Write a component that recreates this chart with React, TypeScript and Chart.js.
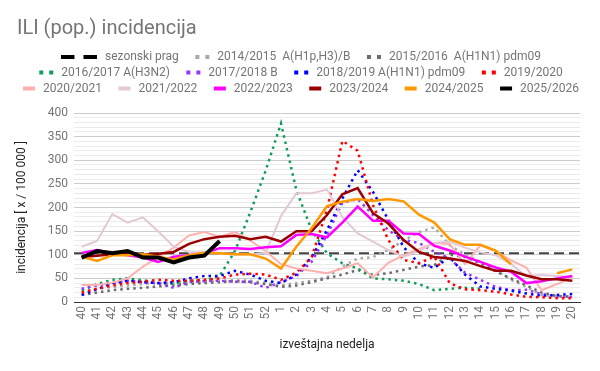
import React, { useEffect, useRef } from 'react';
import { Chart, registerables } from 'chart.js';
Chart.register(...registerables);

const weeks = ['40','41','42','43','44','45','46','47','48','49','50','51','52','1','2','3','4','5','6','7','8','9','10','11','12','13','14','15','16','17','18','19','20'];
const yTicksMajor = [0, 50, 100, 150, 200, 250, 300, 350, 400];
const thresholdValue = 103;

const s1415 = [22,28,32,35,38,40,40,42,44,45,46,45,40, 35,40,45,52,75,92,95,110,130,148, 158,120,100,85,68,47,32,15,12,11];
const s1516 = [15,20,25,28,30,33,35,38,40,42,44,42,38, 32,35,42,50,58,68,57,61,68,75, 78,100,95,82,65,50,35,20,13,11];
const s1617 = [25,38,47,50,46,40,38,45,45,55,108,190,278, 378,237,152,103,82,71,50,48,45,38, 25,28,30,28,null,null,null,null,null,null];
const s1718 = [28,35,40,45,42,40,30,42,44,45,43,43,30, 42,55,85,142,210,218,184,152,131,125, 106,92,62,47,32,25,26,17,12,10];
const s1819 = [15,27,40,45,42,40,42,50,55,55,66,58,45, 40,58,95,152,219,279,233,174,116,82, 72,95,58,33,28,24,18,13,15,17];
const s1920 = [20,28,35,40,43,47,45,45,47,50,58,60,58, 47,62,95,195,341,320,205,131,89,82, 96,40,27,25,22,16,11,10,8,8];
const s2021 = [36,36,41,50,75,95,115,141,148,138,148,130,108, 80,71,66,61,71,82,52,83,99,112, 125,123,80,120,108,88,73,25,38,52];
const s2122 = [117,129,186,168,179,149,117,106,105,104,100,100,104, 182,230,230,238,180,145,128,110,96,108, 125,128,115,105,99,80,55,57,55,52];
const s2223 = [104,110,103,99,94,85,96,99,103,114,114,112,116, 118,142,144,137,168,202,172,172,145,144, 119,109,96,85,73,64,40,44,50,55];
const s2324 = [95,98,101,104,100,102,106,123,133,138,140,133,138, 128,150,150,184,228,241,188,166,131,106, 95,92,87,76,66,66,56,48,48,45];
const s2425 = [96,87,99,99,101,96,90,99,104,103,101,101,92, 71,117,156,203,212,218,214,218,213,185, 168,133,121,121,109,80,null,null,61,69];
const s2526 = [94,108,103,108,94,94,84,94,98,129, null,null,null,null,null,null,null,null,null,null,null,null,null,null,null,null,null,null,null,null,null,null,null];

type Kind = 'solid' | 'dotted' | 'dashed';
type Series = { label: string; data: (number | null)[]; color: string; kind: Kind; width: number };

const series: Series[] = [
  { label: '2014/2015  A(H1p,H3)/B', data: s1415, color: '#a8a8a8', kind: 'dotted', width: 2.5 },
  { label: '2015/2016  A(H1N1) pdm09', data: s1516, color: '#6b6b6b', kind: 'dotted', width: 2.5 },
  { label: '2016/2017 A(H3N2)', data: s1617, color: '#0f9d58', kind: 'dotted', width: 2.5 },
  { label: '2017/2018 B', data: s1718, color: '#9933ff', kind: 'dotted', width: 2.5 },
  { label: '2018/2019 A(H1N1) pdm09', data: s1819, color: '#0000ff', kind: 'dotted', width: 2.5 },
  { label: '2019/2020', data: s1920, color: '#ff0000', kind: 'dotted', width: 2.5 },
  { label: '2020/2021', data: s2021, color: '#ffb0ae', kind: 'solid', width: 2 },
  { label: '2021/2022', data: s2122, color: '#e3c8d5', kind: 'solid', width: 2 },
  { label: '2022/2023', data: s2223, color: '#ff00ff', kind: 'solid', width: 2.5 },
  { label: '2023/2024', data: s2324, color: '#990000', kind: 'solid', width: 2.5 },
  { label: '2024/2025', data: s2425, color: '#ff9900', kind: 'solid', width: 2.5 },
  { label: '2025/2026', data: s2526, color: '#000000', kind: 'solid', width: 4 },
];

const legendRows: { label: string; color: string; kind: Kind }[][] = [
  [
    { label: 'sezonski prag', color: '#000000', kind: 'dashed' },
    { label: series[0].label, color: series[0].color, kind: 'dotted' },
    { label: series[1].label, color: series[1].color, kind: 'dotted' },
  ],
  series.slice(2, 6).map(s => ({ label: s.label, color: s.color, kind: s.kind })),
  series.slice(6, 12).map(s => ({ label: s.label, color: s.color, kind: s.kind })),
];

const FONT = 'Roboto, "Noto Sans", sans-serif';

const overlayPlugin = {
  id: 'overlay',
  afterDraw(chart: any) {
    const ctx: CanvasRenderingContext2D = chart.ctx;
    ctx.save();
    ctx.fillStyle = '#757575';
    ctx.font = `20px ${FONT}`;
    ctx.textAlign = 'left';
    ctx.textBaseline = 'alphabetic';
    ctx.fillText('ILI (pop.) incidencija', 17, 34);

    ctx.font = `12px ${FONT}`;
    ctx.textBaseline = 'middle';
    const rowY = [57, 72.5, 88.5];
    const markerW = (k: Kind) => (k === 'dashed' ? 36 : k === 'dotted' ? 14 : 12);
    const gapText = 8;
    const gapItem = 16.5;
    legendRows.forEach((row, ri) => {
      const widths = row.map(it => markerW(it.kind) + gapText + ctx.measureText(it.label).width);
      const total = widths.reduce((a, b) => a + b, 0) + gapItem * (row.length - 1);
      let x = 301 - total / 2;
      const y = rowY[ri];
      row.forEach((it, i) => {
        ctx.fillStyle = it.color;
        if (it.kind === 'solid') {
          ctx.fillRect(x, y - 2, 12, 4);
        } else if (it.kind === 'dotted') {
          ctx.fillRect(x, y - 2, 4, 4);
          ctx.fillRect(x + 10, y - 2, 4, 4);
        } else {
          ctx.fillRect(x, y - 2, 13.5, 4);
          ctx.fillRect(x + 22.5, y - 2, 13.5, 4);
        }
        ctx.fillStyle = '#757575';
        ctx.fillText(it.label, x + markerW(it.kind) + gapText, y);
        x += widths[i] + gapItem;
      });
    });

    const area = chart.chartArea;
    ctx.fillStyle = '#222222';
    ctx.textAlign = 'center';
    ctx.fillText('izveštajna nedelja', (area.left + area.right) / 2, 345);
    ctx.translate(22, (area.top + area.bottom) / 2);
    ctx.rotate(-Math.PI / 2);
    ctx.fillText('incidencija [ x / 100 000 ]', 0, 0);
    ctx.restore();
  },
};

export default function App() {
  const ref = useRef<HTMLCanvasElement | null>(null);
  useEffect(() => {
    document.body.style.margin = '0';
    const canvas = ref.current!;
    const n = series.length;
    const datasets: any[] = series.map((s, i) => ({
      label: s.label,
      data: s.data,
      borderColor: s.color,
      backgroundColor: s.color,
      borderWidth: s.width,
      borderDash: s.kind === 'dotted' ? [2.5, 4] : [],
      borderCapStyle: 'butt',
      pointRadius: 0,
      tension: 0,
      fill: false,
      spanGaps: false,
      order: n - i,
    }));
    datasets.push({
      label: 'sezonski prag',
      data: [{ x: -0.5, y: thresholdValue }, { x: weeks.length - 0.5, y: thresholdValue }],
      xAxisID: 'x2',
      borderColor: '#444444',
      borderWidth: 2,
      borderDash: [10, 5],
      pointRadius: 0,
      fill: false,
      order: n + 1,
    });
    const chart = new Chart(canvas, {
      type: 'line',
      data: { labels: weeks, datasets },
      options: {
        animation: false,
        responsive: false,
        devicePixelRatio: 1,
        layout: { padding: { top: 113, right: 20, left: 0, bottom: 0 } },
        plugins: { legend: { display: false }, title: { display: false }, tooltip: { enabled: false } },
        scales: {
          x: {
            type: 'category',
            offset: true,
            grid: { display: false, drawTicks: false },
            border: { display: true, color: '#333333', width: 1 },
            ticks: {
              autoSkip: false,
              maxRotation: 90,
              minRotation: 90,
              padding: 4,
              color: '#757575',
              font: { family: FONT, size: 12 },
            },
            afterFit: (s: any) => { s.height = 69; },
          },
          x2: {
            type: 'linear',
            display: false,
            min: -0.5,
            max: weeks.length - 0.5,
          },
          y: {
            type: 'linear',
            min: 0,
            max: 400,
            border: { display: false },
            grid: {
              drawTicks: false,
              color: (c: any) => {
                const v = c.tick ? c.tick.value : 0;
                if (v === 0) return '#333333';
                return yTicksMajor.includes(v) ? '#cccccc' : '#ebebeb';
              },
            },
            ticks: {
              stepSize: 10,
              autoSkip: false,
              padding: 6,
              color: '#757575',
              font: { family: FONT, size: 12 },
              callback: (v: any) => (yTicksMajor.includes(Number(v)) ? String(v) : ''),
            },
            afterFit: (s: any) => { s.width = 74; },
          },
        },
      },
      plugins: [overlayPlugin],
    });
    return () => chart.destroy();
  }, []);
  return (
    <div style={{ width: 600, height: 371 }}>
      <canvas ref={ref} width={600} height={371} style={{ display: 'block' }} />
    </div>
  );
}
